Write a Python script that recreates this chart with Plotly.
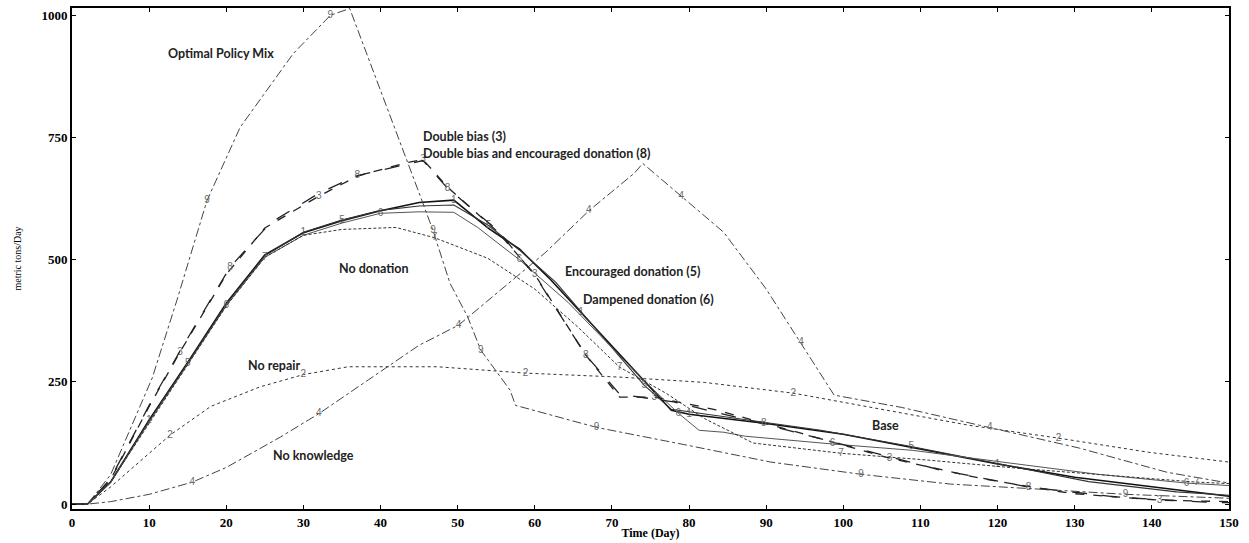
import plotly.graph_objects as go

# ---------------- data ----------------
base_x = [0, 2, 5, 10, 15, 20, 25, 30, 35, 40, 45, 49.5, 54, 58, 62, 66, 70, 74, 77.7, 80, 90, 100, 110, 120, 130, 140, 150]
base_y = [0, 0, 45, 172, 290, 411, 510, 555, 580, 600, 617, 622, 564, 522, 460, 392, 325, 257, 192, 184, 165, 143, 112, 82, 55, 35, 16]

norepair_x = [0, 2, 5, 12.7, 18, 24.4, 30, 35.8, 47.4, 58.8, 70.8, 82, 93.5, 105, 116.4, 127.9, 139.6, 150]
norepair_y = [0, 0, 35, 141, 200, 240, 265, 281, 281, 268, 260, 249, 227, 194, 161, 135, 106, 86]

dbias_x = [0, 2, 5, 10, 14, 20, 25, 32, 37, 43, 45.5, 48.7, 55, 60, 66.6, 71, 75.5, 83.2, 94.5, 106, 117.7, 129.4, 141, 150]
dbias_y = [0, 0, 50, 200, 311, 470, 565, 630, 671, 697, 705, 648, 560, 470, 305, 219, 219, 194, 145, 94, 53, 22, 8, 5]

noknow_x = [0, 2, 5, 10, 15.6, 20, 27, 32, 38.4, 45, 50.1, 55, 61.4, 67, 72.9, 74, 79, 84.5, 90, 94.5, 98.8, 107.5, 119, 130.5, 142, 150]
noknow_y = [0, 0, 5, 20, 45, 75, 137, 185, 254, 325, 366, 430, 515, 600, 677, 697, 630, 556, 440, 330, 223, 198, 157, 115, 65, 43]

encour_x = [0, 2, 5, 10, 15, 20, 25, 30, 35, 40, 45, 49.5, 54, 58, 62.7, 69.2, 74.2, 77.7, 85.7, 97.1, 108.8, 120.3, 131.8, 143.2, 150]
encour_y = [0, 0, 45, 170, 288, 409, 508, 556, 581, 601, 610, 612, 570, 520, 454, 335, 243, 194, 176, 151, 118, 82, 46, 25, 18]

damp_x = [0, 2, 5, 10, 15, 20, 25, 30, 35, 40, 45, 49.5, 52.6, 58, 64.3, 70, 74, 78.6, 81.3, 84.5, 87.2, 98.6, 109, 121.6, 133, 144.5, 150]
damp_y = [0, 0, 44, 168, 286, 406, 505, 550, 575, 595, 598, 597, 566, 500, 413, 320, 255, 186, 151, 147, 139, 123, 110, 84, 61, 43, 38]

nodon_x = [0, 2, 5, 10, 15, 20, 25, 30, 35, 42, 47, 53.9, 60, 65.6, 71, 77, 82, 88.3, 99.7, 111, 122.9, 134.4, 145.8, 150]
nodon_y = [0, 0, 45, 165, 285, 405, 505, 550, 562, 566, 545, 503, 440, 362, 280, 227, 175, 125, 104, 90, 73, 59, 45, 42]

dbenc_x = [0, 2, 5, 10, 14, 20.5, 25.7, 32, 37, 43.6, 45.5, 48.7, 55.2, 60, 66.6, 71, 78, 89.7, 101, 112.5, 124, 135.7, 147, 150]
dbenc_y = [0, 0, 52, 202, 313, 485, 575, 636, 672, 697, 703, 646, 560, 468, 305, 225, 209, 164, 117, 70, 35, 14, 4, 3]

optimal_x = [0, 2, 5, 10.4, 13.6, 17.5, 21.8, 28.7, 33.5, 36, 44.8, 46.8, 49, 51.3, 53, 56.8, 57.5, 68, 79.6, 90.6, 102.3, 113.9, 125, 136.6, 150]
optimal_y = [0, 0, 60, 258, 417, 621, 771, 922, 1000, 1014, 645, 560, 452, 383, 315, 233, 202, 157, 121, 86, 61, 41, 31, 20, 12]

x_ticks = [0, 10, 20, 30, 40, 50, 60, 70, 80, 90, 100, 110, 120, 130, 140, 150]
y_ticks = [0, 250, 500, 750, 1000]

series = [
    ("1", base_x, base_y),
    ("2", norepair_x, norepair_y),
    ("3", dbias_x, dbias_y),
    ("4", noknow_x, noknow_y),
    ("5", encour_x, encour_y),
    ("6", damp_x, damp_y),
    ("7", nodon_x, nodon_y),
    ("8", dbenc_x, dbenc_y),
    ("9", optimal_x, optimal_y),
]

labels = [
    ("Optimal Policy Mix", 12.2, 922),
    ("Double bias (3)", 45.2, 752),
    ("Double bias and encouraged donation (8)", 45.2, 718),
    ("No donation", 34.3, 483),
    ("Encouraged donation (5)", 63.6, 476),
    ("Dampened donation (6)", 66.0, 419),
    ("No repair", 22.5, 284),
    ("Base", 103.4, 160),
    ("No knowledge", 25.8, 100),
]

# ---------------- styling ----------------
styles = {
    "1": dict(color="#111111", width=1.6, dash="solid"),
    "2": dict(color="#333333", width=1.0, dash="dot"),
    "3": dict(color="#222222", width=1.3, dash="dash"),
    "4": dict(color="#444444", width=1.0, dash="dashdot"),
    "5": dict(color="#333333", width=1.1, dash="solid"),
    "6": dict(color="#555555", width=1.0, dash="solid"),
    "7": dict(color="#333333", width=1.0, dash="3px,2px"),
    "8": dict(color="#222222", width=1.3, dash="longdash"),
    "9": dict(color="#444444", width=1.0, dash="dashdot"),
}
# which points carry the series number: (first index, step)
digit_every = {"1": (3, 4), "2": (3, 3), "3": (4, 3), "4": (4, 3), "5": (4, 4),
               "6": (5, 4), "7": (6, 4), "8": (5, 3), "9": (5, 3)}

fig = go.Figure()
for name, xs, ys in series:
    first, step = digit_every[name]
    txt = [name if (k >= first and (k - first) % step == 0 and k < len(xs) - 1) else "" for k in range(len(xs))]
    fig.add_trace(go.Scatter(
        x=xs, y=ys, mode="lines+text", text=txt, textposition="middle center",
        textfont=dict(family="Liberation Sans", size=10, color="#6a6a6a"),
        line=styles[name], showlegend=False, hoverinfo="x+y", name=name,
    ))

for text, lx, ly in labels:
    fig.add_annotation(x=lx, y=ly, text=text, showarrow=False, xanchor="left", yanchor="middle",
                       font=dict(family="Lato", size=12.5, color="#222222", weight="bold"))

axis_common = dict(
    showline=True, linecolor="black", linewidth=2, mirror="ticks",
    ticks="inside", ticklen=4, tickcolor="black",
    showgrid=False, zeroline=False, automargin=False,
    tickfont=dict(family="Liberation Serif", size=13, color="black", weight="bold"),
)

fig.update_xaxes(range=[0, 150], tickvals=x_ticks, **axis_common,
                 title=dict(text="Time (Day)", standoff=0,
                            font=dict(family="Liberation Serif", size=12, color="black", weight="bold")))
fig.update_yaxes(range=[-10, 1015], tickvals=y_ticks, **axis_common,
                 title=dict(text="metric tons/Day", standoff=18,
                            font=dict(family="Liberation Serif", size=10, color="black")))

fig.update_layout(
    width=1249, height=543,
    margin=dict(l=72, r=20, t=8, b=34),
    paper_bgcolor="white", plot_bgcolor="white",
)

fig.write_html("out.html", config={"displayModeBar": False})

# remove the browser's default 8px page margin so the figure sits at the window origin
with open("out.html", "r", encoding="utf-8") as f:
    html = f.read()
html = html.replace("<body>", '<body style="margin:0;overflow:hidden;">', 1)
with open("out.html", "w", encoding="utf-8") as f:
    f.write(html)
